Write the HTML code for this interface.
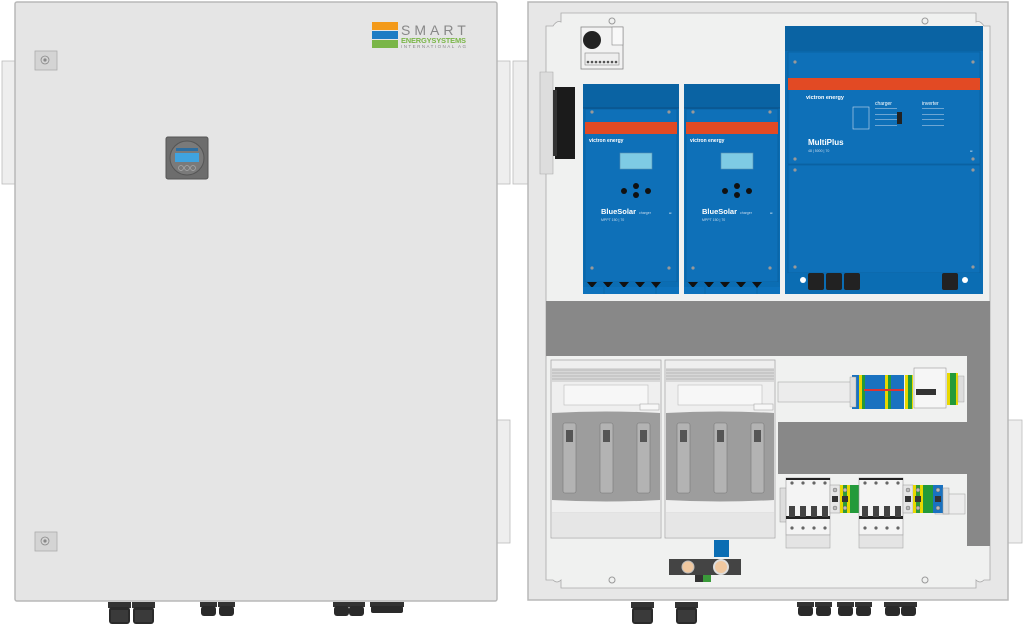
<!DOCTYPE html>
<html><head><meta charset="utf-8"><style>
html,body{margin:0;padding:0;background:#fff;width:1024px;height:625px;overflow:hidden}
svg{display:block;font-family:"Liberation Sans",sans-serif}
</style></head><body>
<svg width="1024" height="625" viewBox="0 0 1024 625" xmlns="http://www.w3.org/2000/svg">
<defs>
<g id="gland"><rect x="0" y="0" width="23" height="6" fill="#333"/><rect x="1" y="5" width="21" height="17" rx="3" fill="#2a2a2a"/><rect x="3" y="8" width="17" height="12" fill="#3a3a3a"/></g>
<g id="sgland"><rect x="0" y="0" width="17" height="5" fill="#333"/><rect x="1" y="4" width="15" height="10" rx="3" fill="#2a2a2a"/></g>
<g id="mppt">
<rect x="0" y="0" width="96" height="210" fill="#0b6db3"/>
<rect x="0" y="0" width="96" height="24" fill="#0a63a3"/>
<line x1="0" y1="24" x2="96" y2="24" stroke="#0a4f85"/>
<rect x="2" y="25" width="92" height="173" fill="#0e70b8" stroke="#0a5a96" stroke-width="0.6"/>
<circle cx="9" cy="28" r="1.6" fill="#999"/><circle cx="86" cy="28" r="1.6" fill="#999"/>
<circle cx="9" cy="184" r="1.6" fill="#999"/><circle cx="86" cy="184" r="1.6" fill="#999"/>
<rect x="2" y="38" width="92" height="12" fill="#e24a24"/>
<text x="6" y="58" font-size="5" fill="#fff" font-weight="bold">victron energy</text>
<rect x="37" y="69" width="32" height="16" fill="#7ecbe4" stroke="#5a8fb0" stroke-width="0.6"/>
<circle cx="53" cy="102" r="3" fill="#111"/><circle cx="53" cy="111" r="3" fill="#111"/>
<circle cx="41" cy="107" r="3" fill="#111"/><circle cx="65" cy="107" r="3" fill="#111"/>
<text x="18" y="130" font-size="7.5" fill="#fff" font-weight="bold">BlueSolar</text>
<text x="56" y="130" font-size="3.5" fill="#cde">charger</text>
<text x="18" y="137" font-size="3.5" fill="#cde">MPPT 150 | 70</text>
<text x="86" y="131" font-size="4" fill="#fff">ᶜᵋ</text>
<rect x="2" y="198" width="92" height="12" fill="#0b6db3"/>
<path d="M4 198 l5 6 5-6 M20 198 l5 6 5-6 M36 198 l5 6 5-6 M52 198 l5 6 5-6 M68 198 l5 6 5-6" fill="#111"/>
<rect x="0" y="203" width="20" height="7" fill="#0d72bc"/><rect x="22" y="203" width="50" height="7" fill="#0d72bc"/><rect x="74" y="203" width="22" height="7" fill="#0d72bc"/>
</g>
<g id="fuse">
<rect x="0" y="0" width="110" height="178" fill="#efefef" stroke="#aaa" stroke-width="0.8"/>
<rect x="1" y="8" width="108" height="14" fill="#d8d8d8"/>
<g stroke="#999" stroke-width="0.6"><line x1="1" y1="10" x2="109" y2="10"/><line x1="1" y1="13" x2="109" y2="13"/><line x1="1" y1="16" x2="109" y2="16"/><line x1="1" y1="19" x2="109" y2="19"/></g>
<rect x="13" y="25" width="84" height="20" fill="#f7f7f7" stroke="#bbb" stroke-width="0.6"/>
<rect x="89" y="44" width="19" height="6" fill="#f7f7f7" stroke="#aaa" stroke-width="0.6"/>
<path d="M1 53 Q55 50 109 53 L109 140 Q55 143 1 140 Z" fill="#9d9d9d"/>
<rect x="12" y="63" width="13" height="70" rx="2" fill="#b3b3b3" stroke="#777" stroke-width="0.6"/>
<rect x="49" y="63" width="13" height="70" rx="2" fill="#b3b3b3" stroke="#777" stroke-width="0.6"/>
<rect x="86" y="63" width="13" height="70" rx="2" fill="#b3b3b3" stroke="#777" stroke-width="0.6"/>
<rect x="15" y="70" width="7" height="12" fill="#555"/><rect x="52" y="70" width="7" height="12" fill="#555"/><rect x="89" y="70" width="7" height="12" fill="#555"/>
<line x1="1" y1="153" x2="109" y2="153" stroke="#bbb" stroke-width="0.6"/>
<rect x="1" y="153" width="108" height="24" fill="#e6e6e6"/>
</g>
<g id="mcb">
<rect x="0" y="0" width="44" height="57" fill="#f4f4f4" stroke="#999" stroke-width="0.6"/>
<rect x="0" y="0" width="44" height="2" fill="#222"/>
<rect x="0" y="38" width="44" height="3" fill="#222"/>
<g fill="#444"><rect x="3" y="28" width="6" height="11"/><rect x="14" y="28" width="6" height="11"/><rect x="25" y="28" width="6" height="11"/><rect x="36" y="28" width="6" height="11"/></g>
<g fill="#666"><circle cx="6" cy="5" r="1.6"/><circle cx="17" cy="5" r="1.6"/><circle cx="28" cy="5" r="1.6"/><circle cx="39" cy="5" r="1.6"/><circle cx="6" cy="50" r="1.6"/><circle cx="17" cy="50" r="1.6"/><circle cx="28" cy="50" r="1.6"/><circle cx="39" cy="50" r="1.6"/></g>
<rect x="0" y="57" width="44" height="13" fill="#e4e4e4" stroke="#aaa" stroke-width="0.6"/>
</g>
<g id="term">
<rect x="0" y="0" width="10" height="28" fill="#e6e6e6" stroke="#999" stroke-width="0.5"/>
<rect x="10" y="0" width="10" height="28" fill="#e8d800"/><rect x="13" y="0" width="4" height="28" fill="#2f9a3a"/>
<rect x="20" y="0" width="10" height="28" fill="#239a3a"/>
<rect x="30" y="0" width="10" height="28" fill="#1a72c0"/>
<g fill="#333"><rect x="2" y="11" width="6" height="6"/><rect x="12" y="11" width="6" height="6"/><rect x="32" y="11" width="6" height="6"/></g>
<g fill="#bbb" stroke="#555" stroke-width="0.4"><circle cx="5" cy="5" r="2"/><circle cx="15" cy="5" r="2"/><circle cx="35" cy="5" r="2"/><circle cx="5" cy="23" r="2"/><circle cx="15" cy="23" r="2"/><circle cx="35" cy="23" r="2"/></g>
</g>
</defs>

<!-- LEFT DOOR -->
<rect x="2" y="61" width="13" height="123" fill="#eee" stroke="#bbb" stroke-width="0.8"/>
<rect x="497" y="61" width="13" height="123" fill="#eee" stroke="#bbb" stroke-width="0.8"/>
<rect x="497" y="420" width="13" height="123" fill="#eee" stroke="#bbb" stroke-width="0.8"/>
<rect x="15" y="2" width="482" height="599" rx="2" fill="#e5e5e5" stroke="#b8b8b8" stroke-width="1.5"/>
<rect x="35" y="51" width="22" height="19" fill="#d4d4d4" stroke="#aaa" stroke-width="0.8"/>
<circle cx="45" cy="60" r="4" fill="none" stroke="#888" stroke-width="0.8"/><circle cx="45" cy="60" r="1.6" fill="#888"/>
<rect x="35" y="532" width="22" height="19" fill="#d4d4d4" stroke="#aaa" stroke-width="0.8"/>
<circle cx="45" cy="541" r="4" fill="none" stroke="#888" stroke-width="0.8"/><circle cx="45" cy="541" r="1.6" fill="#888"/>
<!-- battery monitor -->
<rect x="166" y="137" width="42" height="42" rx="2" fill="#6d6d6d" stroke="#555"/>
<circle cx="187" cy="158" r="17" fill="#7a7a7a" stroke="#555"/>
<rect x="175" y="153" width="24" height="9" fill="#3fa3e0"/>
<rect x="176" y="148" width="22" height="3" fill="#2d6ea0"/>
<g fill="none" stroke="#aaa" stroke-width="0.7"><circle cx="181" cy="168" r="2.5"/><circle cx="187" cy="168" r="2.5"/><circle cx="193" cy="168" r="2.5"/></g>
<!-- logo -->
<rect x="372" y="22" width="26" height="8" fill="#f39a1a"/>
<rect x="372" y="31" width="26" height="8" fill="#1d7cc4"/>
<rect x="372" y="40" width="26" height="8" fill="#7ab648"/>
<text x="401" y="35" font-size="14" fill="#888" letter-spacing="4">SMART</text>
<text x="401" y="43" font-size="7.5" fill="#7ab648" font-weight="bold" textLength="65">ENERGYSYSTEMS</text>
<text x="401" y="48" font-size="4.5" fill="#888" textLength="65">INTERNATIONAL AG</text>
<!-- left glands -->
<use href="#gland" x="108" y="602"/><use href="#gland" x="132" y="602"/>
<use href="#sgland" x="200" y="602"/><use href="#sgland" x="218" y="602"/>
<use href="#sgland" x="333" y="602"/><use href="#sgland" x="348" y="602"/>
<g><rect x="370" y="602" width="34" height="5" fill="#333"/><rect x="371" y="606" width="32" height="7" rx="2" fill="#2a2a2a"/></g>

<!-- RIGHT BOX -->
<rect x="513" y="61" width="15" height="123" fill="#eee" stroke="#bbb" stroke-width="0.8"/>
<rect x="1008" y="420" width="14" height="123" fill="#eee" stroke="#bbb" stroke-width="0.8"/>
<rect x="528" y="2" width="480" height="598" fill="#e7e7e7" stroke="#b8b8b8" stroke-width="1.5"/>
<path d="M561 13 H976 V22 Q980 20 984 26 L990 26 V580 L984 580 Q980 584 976 580 V588 H561 V580 Q557 584 553 580 L546 580 V26 L553 26 Q557 20 561 22 Z" fill="#f0f1f0" stroke="#aaa" stroke-width="0.8"/>
<circle cx="612" cy="21" r="3" fill="none" stroke="#999"/><circle cx="925" cy="21" r="3" fill="none" stroke="#999"/>
<circle cx="612" cy="580" r="3" fill="none" stroke="#999"/><circle cx="925" cy="580" r="3" fill="none" stroke="#999"/>
<!-- top-left module -->
<rect x="581" y="27" width="42" height="42" fill="#f2f2f2" stroke="#888" stroke-width="0.8"/>
<circle cx="592" cy="40" r="9" fill="#222"/>
<rect x="612" y="27" width="11" height="18" fill="#f8f8f8" stroke="#888" stroke-width="0.6"/>
<rect x="585" y="53" width="34" height="12" fill="#eee" stroke="#888" stroke-width="0.6"/>
<g fill="#555"><circle cx="588" cy="62" r="1.3"/><circle cx="592" cy="62" r="1.3"/><circle cx="596" cy="62" r="1.3"/><circle cx="600" cy="62" r="1.3"/><circle cx="604" cy="62" r="1.3"/><circle cx="608" cy="62" r="1.3"/><circle cx="612" cy="62" r="1.3"/><circle cx="616" cy="62" r="1.3"/></g>
<!-- main switch on left side -->
<path d="M540 72 h13 v102 h-13 Z" fill="#ddd" stroke="#aaa" stroke-width="0.6"/>
<path d="M555 87 h20 v72 h-20 Z" fill="#1b1b1b"/>
<rect x="553" y="90" width="4" height="66" fill="#333"/>
<!-- MPPTs -->
<use href="#mppt" x="583" y="84"/>
<use href="#mppt" x="684" y="84"/>
<!-- MultiPlus -->
<rect x="785" y="26" width="198" height="268" fill="#0b6db3"/>
<rect x="785" y="26" width="198" height="25" fill="#0a63a3"/>
<rect x="788" y="52" width="192" height="112" fill="#0e70b8" stroke="#0a5a96" stroke-width="0.6"/>
<rect x="788" y="165" width="192" height="108" fill="#0e70b8" stroke="#0a5a96" stroke-width="0.6"/>
<rect x="788" y="78" width="192" height="12" fill="#e24a24"/>
<g fill="#999"><circle cx="795" cy="62" r="1.6"/><circle cx="973" cy="62" r="1.6"/><circle cx="795" cy="159" r="1.6"/><circle cx="973" cy="159" r="1.6"/><circle cx="795" cy="170" r="1.6"/><circle cx="973" cy="170" r="1.6"/><circle cx="795" cy="267" r="1.6"/><circle cx="973" cy="267" r="1.6"/></g>
<text x="806" y="99" font-size="5.5" fill="#fff" font-weight="bold">victron energy</text>
<text x="808" y="145" font-size="8" fill="#fff" font-weight="bold">MultiPlus</text>
<text x="808" y="152" font-size="3.5" fill="#cde">48 | 5000 | 70</text>
<text x="875" y="105" font-size="5" fill="#fff">charger</text>
<text x="922" y="105" font-size="5" fill="#fff">inverter</text>
<g fill="#cde" font-size="2.5"><rect x="875" y="108" width="22" height="0.5"/><rect x="875" y="114" width="22" height="0.5"/><rect x="875" y="119" width="22" height="0.5"/><rect x="875" y="125" width="22" height="0.5"/><rect x="922" y="108" width="22" height="0.5"/><rect x="922" y="114" width="22" height="0.5"/><rect x="922" y="119" width="22" height="0.5"/><rect x="922" y="125" width="22" height="0.5"/></g>
<rect x="897" y="112" width="5" height="12" fill="#222"/>
<rect x="853" y="107" width="16" height="22" fill="none" stroke="#cde" stroke-width="0.6"/>
<text x="970" y="153" font-size="4" fill="#fff">ᶜᵋ</text>
<rect x="788" y="273" width="192" height="19" fill="#0b6db3"/>
<g fill="#222"><rect x="808" y="273" width="16" height="17" rx="2"/><rect x="826" y="273" width="16" height="17" rx="2"/><rect x="844" y="273" width="16" height="17" rx="2"/><rect x="942" y="273" width="16" height="17" rx="2"/></g>
<circle cx="803" cy="280" r="3" fill="#fff"/><circle cx="965" cy="280" r="3" fill="#fff"/>
<!-- gray band -->
<rect x="546" y="301" width="444" height="55" fill="#888"/>
<rect x="967" y="356" width="23" height="190" fill="#888"/>
<rect x="778" y="422" width="189" height="52" fill="#888"/>
<!-- fuse holders -->
<use href="#fuse" x="551" y="360"/>
<use href="#fuse" x="665" y="360"/>
<!-- DIN rail top -->
<rect x="778" y="382" width="75" height="20" fill="#ececec" stroke="#aaa" stroke-width="0.6"/>
<rect x="852" y="375" width="52" height="34" fill="#1a72c0"/>
<rect x="850" y="377" width="6" height="30" fill="#ddd" stroke="#999" stroke-width="0.4"/>
<rect x="859" y="375" width="3" height="34" fill="#e8d800"/><rect x="862" y="375" width="3" height="34" fill="#239a3a"/>
<rect x="885" y="375" width="3" height="34" fill="#e8d800"/><rect x="888" y="375" width="3" height="34" fill="#239a3a"/>
<rect x="864" y="389" width="40" height="2" fill="#d33"/>
<rect x="905" y="375" width="8" height="34" fill="#e8d800"/><rect x="908" y="375" width="4" height="34" fill="#239a3a"/>
<rect x="914" y="368" width="32" height="40" fill="#f6f6f6" stroke="#999" stroke-width="0.6"/>
<rect x="916" y="389" width="20" height="6" fill="#333"/>
<rect x="947" y="373" width="11" height="32" fill="#e8d800"/><rect x="950" y="373" width="6" height="32" fill="#239a3a"/>
<rect x="958" y="376" width="6" height="26" fill="#ddd" stroke="#999" stroke-width="0.4"/>
<!-- DIN rail bottom -->
<rect x="780" y="488" width="10" height="34" fill="#ddd" stroke="#999" stroke-width="0.5"/>
<rect x="935" y="494" width="30" height="20" fill="#ececec" stroke="#aaa" stroke-width="0.6"/>
<use href="#mcb" x="786" y="478"/>
<use href="#term" x="830" y="485"/>
<use href="#mcb" x="859" y="478"/>
<use href="#term" x="903" y="485"/>
<rect x="943" y="488" width="6" height="26" fill="#ddd" stroke="#999" stroke-width="0.5"/>
<!-- busbar bottom -->
<rect x="714" y="540" width="15" height="17" fill="#0b6db3"/>
<rect x="669" y="559" width="72" height="16" fill="#444"/>
<circle cx="688" cy="567" r="6" fill="#f0c8a0" stroke="#bbb"/>
<circle cx="721" cy="567" r="7" fill="#f0c8a0" stroke="#ddd" stroke-width="2"/>
<rect x="695" y="575" width="8" height="7" fill="#333"/><rect x="703" y="575" width="8" height="7" fill="#3a9a3a"/>
<!-- right glands -->
<use href="#gland" x="631" y="602"/><use href="#gland" x="675" y="602"/>
<use href="#sgland" x="797" y="602"/><use href="#sgland" x="815" y="602"/>
<use href="#sgland" x="837" y="602"/><use href="#sgland" x="855" y="602"/>
<use href="#sgland" x="884" y="602"/><use href="#sgland" x="900" y="602"/>
</svg>
</body></html>
